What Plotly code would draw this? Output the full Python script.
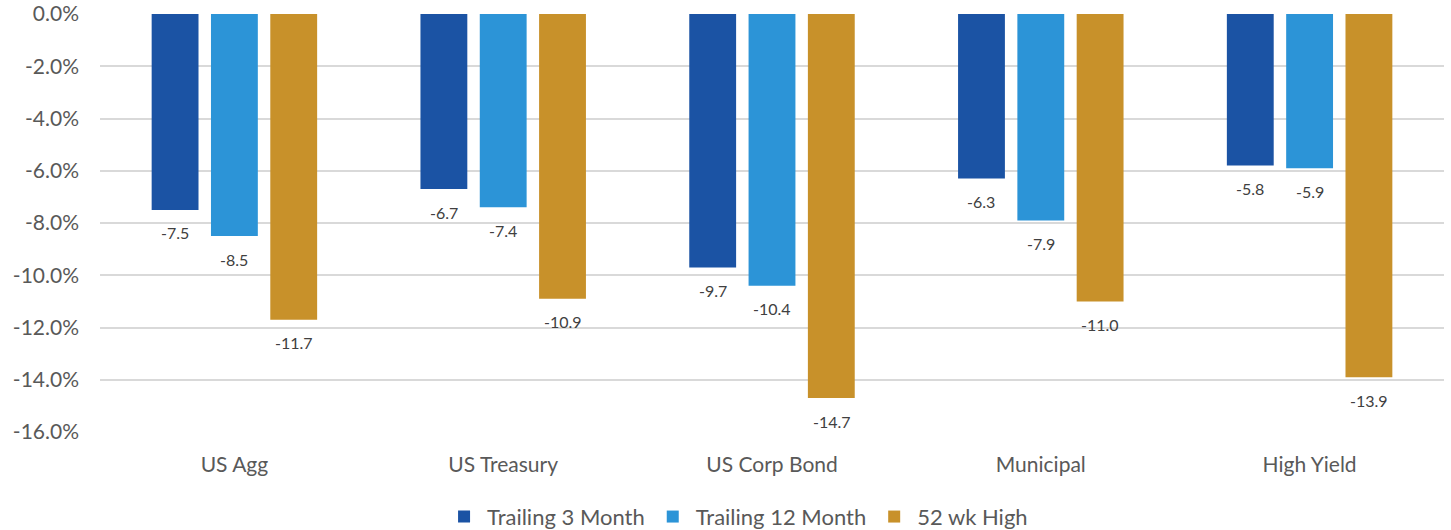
import plotly.graph_objects as go

categories = ["US Agg", "US Treasury", "US Corp Bond", "Municipal", "High Yield"]
trailing_3m = [-7.5, -6.7, -9.7, -6.3, -5.8]
trailing_12m = [-8.5, -7.4, -10.4, -7.9, -5.9]
wk52_high = [-11.7, -10.9, -14.7, -11.0, -13.9]
series_names = ["Trailing 3 Month", "Trailing 12 Month", "52 wk High"]
colors = ["#1B53A4", "#2C94D7", "#C8912A"]
y_ticks = [0, -2, -4, -6, -8, -10, -12, -14, -16]

fig = go.Figure()
all_series = [trailing_3m, trailing_12m, wk52_high]
for name, vals, col in zip(series_names, all_series, colors):
    fig.add_trace(go.Bar(x=categories, y=vals, name=name, marker_color=col,
                         marker_line_width=0))

slot_px = 59.5
for i, vals in enumerate(all_series):
    for c, v in zip(categories, vals):
        fig.add_annotation(x=c, y=v, text=f"{v:.1f}", showarrow=False,
                           xshift=(i - 1) * slot_px, yshift=-23, yanchor="middle",
                           font=dict(size=16, color="#404040"))

fig.update_layout(
    width=1451, height=530,
    margin=dict(l=100, r=7, t=14, b=98),
    paper_bgcolor="white", plot_bgcolor="white",
    barmode="group", bargap=0.338, bargroupgap=0.21,
    font=dict(family="Lato, Open Sans, sans-serif", color="#595959"),
    showlegend=True,
    legend=dict(orientation="h", x=0.474, xanchor="center", yref="container",
                y=0.025, yanchor="middle", itemwidth=36,
                font=dict(size=22, color="#595959"), itemclick=False),
    yaxis=dict(range=[-16, 0], tickvals=y_ticks,
               ticktext=[f"{t:.1f}%" for t in y_ticks],
               showgrid=True, gridcolor="#D9D9D9", gridwidth=2,
               zeroline=False, tickfont=dict(size=21, color="#595959"),
               ticks="", ticklabelstandoff=20, automargin=False),
    xaxis=dict(tickfont=dict(size=21, color="#595959"), showline=False,
               ticks="", ticklabelstandoff=18, automargin=False),
)

fig.write_html(
    "out.html",
    config={"displayModeBar": False},
    post_script="document.body.style.margin='0';document.body.style.overflow='hidden';",
)
